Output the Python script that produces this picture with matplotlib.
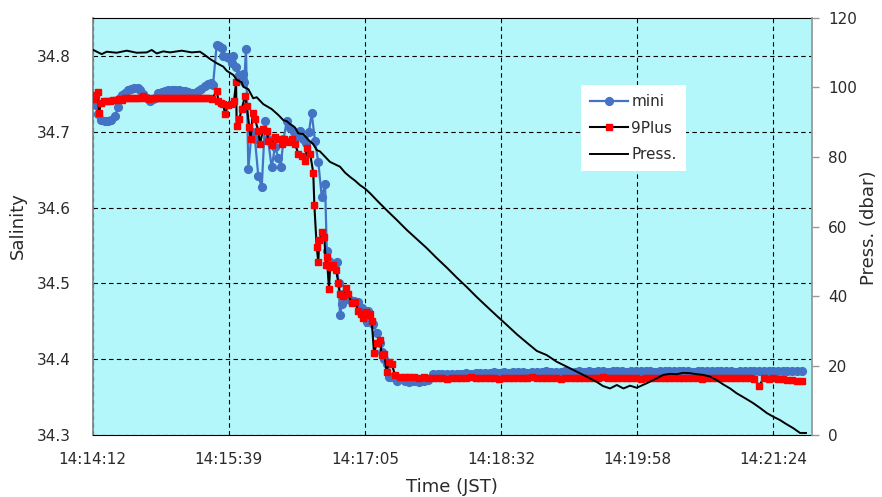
import matplotlib
matplotlib.use("Agg")
import matplotlib.pyplot as plt

# time axis: seconds elapsed since 14:14:12 JST
tick_t = [0, 86.4, 172.8, 259.2, 345.6, 432.0]
tick_labels = ["14:14:12", "14:15:39", "14:17:05", "14:18:32", "14:19:58", "14:21:24"]
sal_ticks = [34.3, 34.4, 34.5, 34.6, 34.7, 34.8]
sal_labels = ["34.3", "34.4", "34.5", "34.6", "34.7", "34.8"]
press_ticks = [0, 20, 40, 60, 80, 100, 120]

# mini salinity (descent part)
mini_head_t = [0.2, 1.8, 3.4, 5.3, 7.5, 9.7, 11.9, 14.2, 16.1, 17.3, 18.9, 20.5, 22.4, 24.3,
               26.5, 28.8, 30.3, 31.9, 34.2, 36.4, 38.0, 39.5, 41.5, 43.7, 45.9, 48.1, 50.3,
               52.2, 54.5, 56.7, 58.6, 60.8, 63.0, 64.9, 66.8, 68.7, 71.0, 73.2, 75.1, 76.4,
               78.7, 80.2, 81.9, 82.9, 85.1, 86.5, 88.2, 89.3, 91.0, 92.9, 95.2, 96.2, 97.3,
               98.8, 100.9, 103.0, 105.1, 107.3, 109.4, 111.3, 113.6, 115.7, 117.8, 119.3,
               121.1, 123.2, 125.2, 127.5, 129.7, 131.6, 133.8, 135.7, 137.3, 139.0, 141.1,
               143.2, 145.4, 147.5, 148.6, 150.3, 152.6, 154.9, 156.1, 157.0, 158.1, 159.1,
               161.1, 163.3, 165.9, 168.6, 171.0, 173.9, 174.9, 176.6, 178.1, 180.3, 182.4,
               183.5, 185.0, 186.6, 187.8, 189.4, 190.8, 193.0]
mini_head_s = [34.745, 34.735, 34.724, 34.715, 34.714, 34.714, 34.716, 34.721, 34.732, 34.745,
               34.749, 34.751, 34.755, 34.757, 34.758, 34.758, 34.755, 34.750, 34.745, 34.741,
               34.743, 34.745, 34.751, 34.753, 34.754, 34.755, 34.755, 34.755, 34.755, 34.754,
               34.754, 34.752, 34.751, 34.751, 34.754, 34.757, 34.760, 34.763, 34.764, 34.762,
               34.815, 34.813, 34.811, 34.800, 34.798, 34.797, 34.791, 34.800, 34.785, 34.775,
               34.776, 34.765, 34.809, 34.651, 34.700, 34.690, 34.642, 34.627, 34.714, 34.690,
               34.653, 34.680, 34.666, 34.653, 34.690, 34.714, 34.705, 34.700, 34.695, 34.701,
               34.690, 34.685, 34.700, 34.725, 34.688, 34.660, 34.614, 34.631, 34.543, 34.530,
               34.525, 34.528, 34.500, 34.458, 34.473, 34.486, 34.480, 34.478, 34.477, 34.475,
               34.468, 34.449, 34.464, 34.450, 34.447, 34.435, 34.421, 34.410, 34.400, 34.394,
               34.377, 34.376, 34.377, 34.371]

# 9Plus salinity (descent part)
plus_head_t = [0.2, 1.8, 3.4, 4.0, 5.3, 7.2, 9.1, 11.0, 12.9, 14.8, 16.8, 18.7, 20.5, 22.5,
               24.3, 26.2, 28.1, 30.0, 31.9, 33.8, 35.7, 37.6, 39.5, 41.5, 43.4, 45.3, 47.2,
               49.1, 51.0, 52.9, 54.8, 56.7, 58.6, 60.5, 62.5, 64.3, 66.2, 68.1, 70.0, 71.9,
               73.8, 75.7, 78.7, 79.8, 81.5, 82.9, 84.0, 85.9, 87.8, 89.7, 91.0, 91.4, 93.1,
               94.6, 96.7, 97.8, 99.4, 100.3, 101.6, 103.0, 105.1, 106.2, 108.3, 110.5, 111.5,
               113.6, 115.7, 117.8, 120.0, 121.4, 123.2, 124.6, 126.3, 128.4, 130.5, 132.7,
               134.8, 135.9, 138.0, 140.0, 140.7, 142.2, 143.2, 143.8, 145.8, 147.0, 148.1,
               148.6, 150.0, 150.7, 152.7, 154.5, 156.0, 157.0, 159.1, 160.8, 162.3, 164.4,
               166.5, 168.6, 170.3, 171.8, 173.5, 174.8, 176.0, 177.1, 178.6, 180.3, 182.4,
               183.5, 185.1, 186.6, 187.8, 189.8, 191.9, 195.1]
plus_head_s = [34.743, 34.748, 34.752, 34.725, 34.738, 34.740, 34.741, 34.740, 34.742, 34.742,
               34.743, 34.742, 34.744, 34.744, 34.745, 34.745, 34.744, 34.745, 34.747, 34.744,
               34.743, 34.744, 34.744, 34.745, 34.745, 34.744, 34.745, 34.745, 34.745, 34.745,
               34.745, 34.744, 34.745, 34.745, 34.745, 34.745, 34.745, 34.744, 34.745, 34.745,
               34.744, 34.743, 34.754, 34.741, 34.738, 34.736, 34.723, 34.735, 34.737, 34.741,
               34.765, 34.708, 34.717, 34.730, 34.747, 34.734, 34.706, 34.690, 34.725, 34.717,
               34.701, 34.684, 34.704, 34.701, 34.688, 34.682, 34.693, 34.690, 34.684, 34.690,
               34.688, 34.686, 34.690, 34.684, 34.671, 34.668, 34.662, 34.679, 34.671, 34.646,
               34.603, 34.548, 34.528, 34.557, 34.568, 34.561, 34.524, 34.535, 34.493, 34.521,
               34.524, 34.517, 34.500, 34.486, 34.484, 34.494, 34.486, 34.474, 34.475, 34.464,
               34.460, 34.454, 34.462, 34.458, 34.460, 34.451, 34.408, 34.421, 34.425, 34.405,
               34.407, 34.383, 34.396, 34.394, 34.379, 34.377]

# bottom (constant depth) part, both sensors on the same clock
tail_t = [198, 201, 204, 207, 210, 213, 216, 219, 222, 225, 228, 231, 234, 237, 240, 243,
          246, 249, 252, 255, 258, 261, 264, 267, 270, 273, 276, 279, 282, 285, 288, 291,
          294, 297, 300, 303, 306, 309, 312, 315, 318, 321, 324, 327, 330, 333, 336, 339,
          342, 345, 348, 351, 354, 357, 360, 363, 366, 369, 372, 375, 378, 381, 384, 387,
          390, 393, 396, 399, 402, 405, 408, 411, 414, 417, 420, 423, 426, 429, 432, 435,
          438, 441, 444, 447, 450]
mini_tail_s = [34.371, 34.370, 34.371, 34.370, 34.371, 34.372,
               34.380, 34.380, 34.381, 34.380, 34.381, 34.381, 34.381, 34.382, 34.381, 34.382,
               34.382, 34.382, 34.382, 34.383, 34.382,
               34.383, 34.382, 34.383, 34.383, 34.383, 34.382, 34.383, 34.383, 34.383, 34.384,
               34.383, 34.383, 34.383, 34.384, 34.383, 34.383, 34.384, 34.383, 34.384, 34.383,
               34.384, 34.384, 34.383, 34.384,
               34.384, 34.384, 34.383, 34.384, 34.384, 34.385, 34.384, 34.384, 34.383, 34.384,
               34.384, 34.384, 34.385, 34.384, 34.384, 34.384, 34.383, 34.384, 34.384, 34.384,
               34.385, 34.384, 34.384, 34.384, 34.384, 34.383, 34.384, 34.384, 34.385, 34.384,
               34.384, 34.384, 34.384, 34.384, 34.384, 34.385, 34.384, 34.384, 34.384, 34.384]
plus_tail_s = [34.376, 34.376, 34.376, 34.375, 34.376, 34.375,
               34.375, 34.375, 34.375, 34.374, 34.375, 34.375, 34.375, 34.375, 34.376, 34.375,
               34.375, 34.375, 34.375, 34.375, 34.374, 34.375, 34.375, 34.375, 34.375, 34.375,
               34.375, 34.376, 34.375, 34.375, 34.375, 34.375, 34.375, 34.374, 34.375, 34.375,
               34.375, 34.375, 34.375, 34.375, 34.375, 34.375, 34.376, 34.375, 34.375, 34.375,
               34.375, 34.375, 34.375, 34.375, 34.374, 34.375, 34.375, 34.375, 34.375, 34.375,
               34.375, 34.375, 34.375, 34.375, 34.375, 34.375, 34.375, 34.374, 34.375, 34.375,
               34.375, 34.375, 34.375, 34.375, 34.375, 34.375, 34.375, 34.375, 34.374,
               34.365,
               34.375, 34.374, 34.375, 34.374, 34.374,
               34.373, 34.372, 34.371, 34.371]

# pressure (dbar)
press_t = [0.4, 5.7, 8.9, 15.2, 21.6, 27.9, 34.3, 37.5, 40.6, 44.8, 49.1, 56.5, 62.8, 68.1,
           71.3, 74.5, 78.7, 82.9, 85.1, 89.3, 91.4, 94.6, 95.6, 98.8, 101.9, 104.1, 108.3,
           113.6, 117.8, 121.0, 123.2, 125.2, 128.4, 130.5, 133.7, 136.7, 140.0, 142.2, 144.3,
           150.6, 157.0, 160.2, 163.3, 166.5, 169.7, 172.9, 176.0, 181.3, 186.6, 193.0, 199.4,
           205.7, 212.0, 218.4, 224.7, 231.1, 237.4, 243.8, 250.1, 256.5, 262.8, 269.2, 275.5,
           281.9, 288.2, 294.5, 303.0, 311.4, 319.9, 323.9, 328.4, 332.7, 336.9, 341.1, 345.3,
           351.7, 358.0, 362.2, 366.5, 370.7, 374.7, 379.2, 383.4, 387.6, 391.9, 396.1, 400.1,
           404.6, 408.8, 414.1, 419.2, 423.6, 428.0, 431.9, 436.3, 440.1, 444.6, 449.0, 452.8]
press_p = [110.8, 109.6, 110.3, 110.0, 110.6, 110.0, 110.1, 110.8, 109.8, 110.4, 110.1, 110.6,
           110.1, 110.3, 109.3, 108.2, 107.0, 106.0, 104.8, 103.6, 102.2, 101.5, 100.2, 99.5,
           96.9, 97.2, 95.2, 93.8, 92.1, 90.6, 90.3, 89.5, 88.5, 86.8, 86.6, 85.0, 83.7, 82.0,
           81.6, 78.6, 77.2, 75.5, 74.3, 73.2, 71.9, 70.9, 69.6, 67.1, 64.7, 61.9, 59.0, 56.4,
           53.8, 50.9, 48.2, 45.3, 42.6, 39.7, 37.0, 34.3, 31.7, 29.0, 26.6, 24.2, 23.0, 21.1,
           19.2, 17.3, 15.3, 14.1, 13.4, 14.4, 13.4, 14.2, 13.6, 14.9, 16.3, 17.3, 17.6, 17.5,
           17.9, 17.8, 17.5, 17.3, 16.8, 15.8, 14.6, 13.4, 12.0, 10.6, 9.2, 7.8, 6.3, 5.3, 4.3,
           3.2, 2.0, 0.6, 0.6]

mini_t = mini_head_t + tail_t
mini_s = mini_head_s + mini_tail_s
plus_t = plus_head_t + tail_t
plus_s = plus_head_s + plus_tail_s

txt = "#2a2a2a"
fig = plt.figure(figsize=(8.82, 4.97), dpi=100)
ax = fig.add_axes([0.1051, 0.1247, 0.8159, 0.8391])
ax.set_facecolor("#b4f7fa")
ax2 = ax.twinx()

l1, = ax.plot(mini_t, mini_s, color="#4472C4", lw=1.6, marker="o", ms=5.6,
              mfc="#4472C4", mec="#4472C4", label="mini", zorder=3)
l2, = ax.plot(plus_t, plus_s, color="black", lw=1.5, marker="s", ms=4.6,
              mfc="red", mec="red", label="9Plus", zorder=4)
l3, = ax2.plot(press_t, press_p, color="black", lw=1.4, label="Press.")

ax.set_xlim(0, 456.8)
ax.set_ylim(34.3, 34.85)
ax2.set_ylim(0, 120)
ax.set_xticks(tick_t)
ax.set_xticklabels(tick_labels)
ax.set_yticks(sal_ticks)
ax.set_yticklabels(sal_labels)
ax2.set_yticks(press_ticks)

ax.set_axisbelow(True)
ax.grid(True, color="black", linestyle=(0, (4, 3)), linewidth=0.8)

ax.tick_params(axis="y", length=0, pad=16, labelsize=11, labelcolor=txt)
ax.tick_params(axis="x", length=0, pad=12, labelsize=11, labelcolor=txt)
ax2.tick_params(axis="y", length=4.8, width=1, color="#999999", pad=6.5,
                labelsize=11, labelcolor=txt)

for s in ["top", "bottom"]:
    ax.spines[s].set_color("black")
ax.spines["left"].set_color("#888888")
ax.spines["left"].set_linewidth(1.3)
ax.spines["right"].set_visible(False)
for s in ["top", "bottom", "left"]:
    ax2.spines[s].set_visible(False)
ax2.spines["right"].set_color("#999999")
ax2.spines["right"].set_linewidth(1.3)

fig.text(17.5 / 882, 1 - 226 / 497, "Salinity", rotation=90, ha="center", va="center",
         fontsize=13, color=txt)
fig.text(452 / 882, 1 - 487 / 497, "Time (JST)", ha="center", va="center",
         fontsize=13, color=txt)
fig.text(869 / 882, 1 - 228 / 497, "Press. (dbar)", rotation=90, ha="center", va="center",
         fontsize=13, color=txt)

leg = ax2.legend(handles=[l1, l2, l3], loc="upper left", bbox_to_anchor=(0.6786, 0.839),
                 frameon=True, fancybox=False, framealpha=1, facecolor="white",
                 edgecolor="none", fontsize=11, handlelength=2.5, handletextpad=0.2,
                 labelspacing=0.75, borderpad=0.6, borderaxespad=0)
for t in leg.get_texts():
    t.set_color(txt)

fig.savefig("out.png", dpi=100)
